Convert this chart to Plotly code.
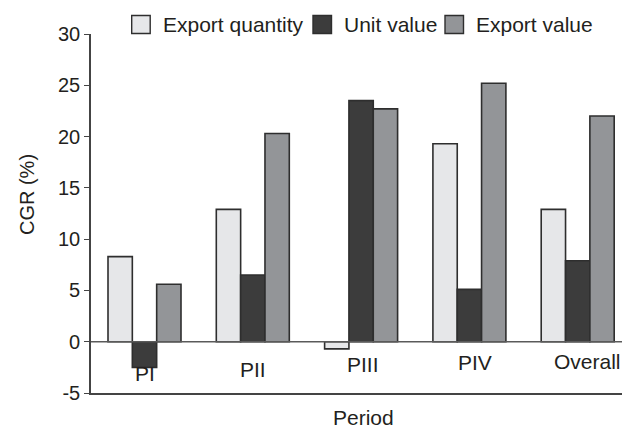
import plotly.graph_objects as go

periods = ["PI", "PII", "PIII", "PIV", "Overall"]
export_quantity = [8.3, 12.9, -0.7, 19.3, 12.9]
unit_value = [-2.5, 6.5, 23.5, 5.1, 7.9]
export_value = [5.6, 20.3, 22.7, 25.2, 22.0]
y_ticks = [-5, 0, 5, 10, 15, 20, 25, 30]
y_tick_text = ["-5", "0", "5", "10", "15", "20", "25", "30"]
series_names = ["Export quantity", "Unit value", "Export value"]
series_colors = ["#e6e7e9", "#3c3c3c", "#939598"]

# label placement (layout, not data)
label_y = [-3.1, -2.7, -2.25, -2.0, -1.95]
label_xshift = [0, 0, 2, 6, 10]

FONT = "Liberation Sans, Arial, sans-serif"
TXT = "#231f20"
outline = dict(color="#2e2e2e", width=1.6)

L, R, T, B = 91, 0, 33.5, 36.5
W, H = 622, 430
PW, PH = W - L - R, H - T - B


def px_x(px):
    return (px - L) / PW


def px_y(py):
    return (H - B - py) / PH


fig = go.Figure()
for name, vals, col in zip(series_names, [export_quantity, unit_value, export_value], series_colors):
    fig.add_bar(x=periods, y=vals, name=name, marker=dict(color=col, line=outline),
                showlegend=False)

for p, ly, xs in zip(periods, label_y, label_xshift):
    fig.add_annotation(x=p, y=ly, text=p, showarrow=False, xshift=xs,
                       font=dict(size=21, color=TXT, family=FONT))

fig.add_shape(type="line", xref="paper", yref="y", x0=0, x1=1, y0=0, y1=0,
              line=dict(color="#5a5a5a", width=1.6))

# legend drawn as keys
legend_sq_x = [131.7, 313, 445]
for name, col, sx in zip(series_names, series_colors, legend_sq_x):
    fig.add_shape(type="rect", xref="paper", yref="paper",
                  x0=px_x(sx), x1=px_x(sx + 18.5), y0=px_y(33), y1=px_y(15),
                  fillcolor=col, line=dict(color="#2e2e2e", width=1.4))
    fig.add_annotation(xref="paper", yref="paper", x=px_x(sx + 29), y=px_y(23.5),
                       xanchor="left", yanchor="middle", text=name, showarrow=False,
                       font=dict(size=21, color=TXT, family=FONT))

fig.add_annotation(xref="paper", yref="paper", x=px_x(363), y=px_y(418),
                   text="Period", showarrow=False, xanchor="center", yanchor="middle",
                   font=dict(size=21, color=TXT, family=FONT))
fig.add_annotation(xref="paper", yref="paper", x=px_x(27), y=px_y(195),
                   text="CGR (%)", showarrow=False, textangle=-90,
                   xanchor="center", yanchor="middle",
                   font=dict(size=20, color=TXT, family=FONT))

fig.update_layout(
    width=W, height=H,
    margin=dict(l=L, r=R, t=T, b=B, autoexpand=False),
    plot_bgcolor="white", paper_bgcolor="white",
    barmode="group", bargap=0.326, bargroupgap=0,
    font=dict(family=FONT, size=20, color=TXT),
    showlegend=False,
    xaxis=dict(range=[-0.494, 4.409], showticklabels=False, ticks="",
               showline=True, linecolor="#444", linewidth=1.6,
               showgrid=False, zeroline=False),
    yaxis=dict(range=[-5, 30], tickvals=y_ticks, ticktext=y_tick_text,
               ticks="outside", ticklen=5, tickwidth=1.4,
               tickcolor="#444", showline=True, linecolor="#444", linewidth=1.6,
               showgrid=False, zeroline=False, tickfont=dict(size=20, color=TXT)),
)

fig.write_html("out.html", config={"displayModeBar": False},
               post_script="document.body.style.margin='0';document.body.style.overflow='hidden';")
